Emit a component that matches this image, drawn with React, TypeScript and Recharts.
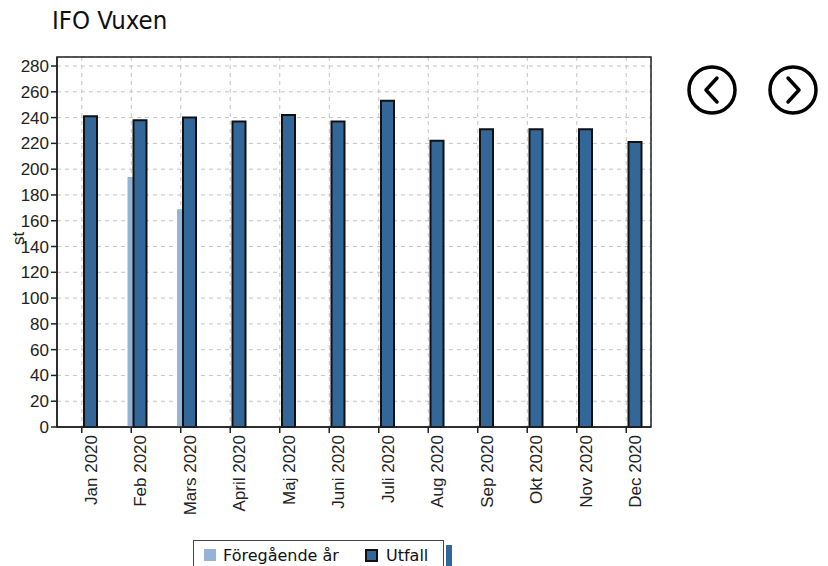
import React from 'react';
import { BarChart, Bar, XAxis, YAxis, CartesianGrid, ReferenceArea } from 'recharts';

// Månader och värden
const months = [
  'Jan 2020', 'Feb 2020', 'Mars 2020', 'April 2020', 'Maj 2020', 'Juni 2020',
  'Juli 2020', 'Aug 2020', 'Sep 2020', 'Okt 2020', 'Nov 2020', 'Dec 2020',
];
const utfall = [241, 238, 240, 237, 242, 237, 253, 222, 231, 231, 231, 221];
const foregaende: (number | null)[] = [null, 194, 169, null, null, null, null, null, null, null, null, null];
const yTicks = [0, 20, 40, 60, 80, 100, 120, 140, 160, 180, 200, 220, 240, 260, 280];
const Y_MAX = 287;

const chartData = months.map((m, i) => ({
  month: m,
  spacer: null,
  prev: foregaende[i],
  utfall: utfall[i],
}));

const DARK = '#336699';
const LIGHT = '#95b3d7';
const AXIS = '#222';
const TICK_FONT = '"Liberation Sans", Arial, sans-serif';
const UI_FONT = '"DejaVu Sans", Verdana, sans-serif';

const MonthTick = (props: any) => {
  const { x, y, payload } = props;
  return (
    <g transform={`translate(${x},${y})`}>
      <text
        transform="rotate(-90)"
        textAnchor="end"
        x={0}
        dy={15}
        fontSize={17}
        fontFamily={TICK_FONT}
        fill={AXIS}
      >
        {payload.value}
      </text>
    </g>
  );
};

const NavButton = ({ left, dir }: { left: number; dir: 'prev' | 'next' }) => (
  <svg
    width={52}
    height={52}
    style={{ position: 'absolute', left, top: 64 }}
    viewBox="0 0 52 52"
  >
    <circle cx={26} cy={26} r={23} fill="none" stroke="#000" strokeWidth={3.5} />
    <polyline
      points={dir === 'prev' ? '31,14 20,26 31,38' : '21,14 32,26 21,38'}
      fill="none"
      stroke="#000"
      strokeWidth={3.5}
      strokeLinecap="round"
      strokeLinejoin="round"
    />
  </svg>
);

export default function App() {
  return (
    <div style={{ position: 'relative', width: 828, height: 566, overflow: 'hidden', background: '#fff' }}>
      <style>{'body{margin:0}'}</style>
      <div
        style={{
          position: 'absolute', left: 52, top: 5, fontSize: 25.5,
          fontFamily: '"DejaVu Sans Condensed", "DejaVu Sans", Verdana, sans-serif', color: '#111',
        }}
      >
        IFO Vuxen
      </div>

      <BarChart
        width={828}
        height={566}
        data={chartData}
        margin={{ top: 57, right: 177, bottom: 39, left: 10 }}
        barGap={-7}
      >
        <CartesianGrid stroke="#c4c4c4" strokeDasharray="4 4" />
        <XAxis
          dataKey="month"
          interval={0}
          height={100}
          tick={<MonthTick />}
          tickSize={6}
          axisLine={{ stroke: AXIS, strokeWidth: 1.5 }}
          tickLine={{ stroke: AXIS, strokeWidth: 1.5 }}
        />
        <YAxis
          domain={[0, Y_MAX]}
          ticks={yTicks}
          interval={0}
          width={47}
          tickSize={6}
          tickMargin={2}
          tick={{ fontSize: 17, fontFamily: TICK_FONT, fill: AXIS }}
          axisLine={{ stroke: AXIS, strokeWidth: 1.5 }}
          tickLine={{ stroke: AXIS, strokeWidth: 1.5 }}
        />
        <ReferenceArea
          x1={months[0]}
          x2={months[months.length - 1]}
          y1={0}
          y2={Y_MAX}
          fill="none"
          fillOpacity={0}
          stroke={AXIS}
          strokeWidth={1.5}
          strokeOpacity={1}
        />
        <Bar dataKey="spacer" barSize={18} fill="none" isAnimationActive={false} />
        <Bar dataKey="prev" name="Föregående år" barSize={13} fill={LIGHT} isAnimationActive={false} />
        <Bar
          dataKey="utfall"
          name="Utfall"
          barSize={13}
          fill={DARK}
          stroke="#111"
          strokeWidth={2}
          isAnimationActive={false}
        />
      </BarChart>

      <div
        style={{
          position: 'absolute', left: 10, top: 245, fontSize: 17,
          fontFamily: TICK_FONT, color: AXIS, transform: 'rotate(-90deg)',
          transformOrigin: 'left top', lineHeight: '17px',
        }}
      >
        st
      </div>

      <NavButton left={686} dir="prev" />
      <NavButton left={767} dir="next" />

      {/* legend */}
      <div
        style={{
          position: 'absolute', left: 193, top: 540, width: 251, height: 40,
          border: '1px solid #444', background: '#fff', fontFamily: UI_FONT,
          fontSize: 16, color: '#111', boxSizing: 'border-box',
        }}
      >
        <span style={{ position: 'absolute', left: 10, top: 8, width: 12, height: 12, background: LIGHT }} />
        <span style={{ position: 'absolute', left: 29, top: 5 }}>Föregående år</span>
        <span
          style={{
            position: 'absolute', left: 171, top: 8, width: 9, height: 9,
            background: DARK, border: '2px solid #111',
          }}
        />
        <span style={{ position: 'absolute', left: 192, top: 5 }}>Utfall</span>
      </div>
      <div style={{ position: 'absolute', left: 446, top: 545, width: 6, height: 30, background: DARK }} />
    </div>
  );
}
